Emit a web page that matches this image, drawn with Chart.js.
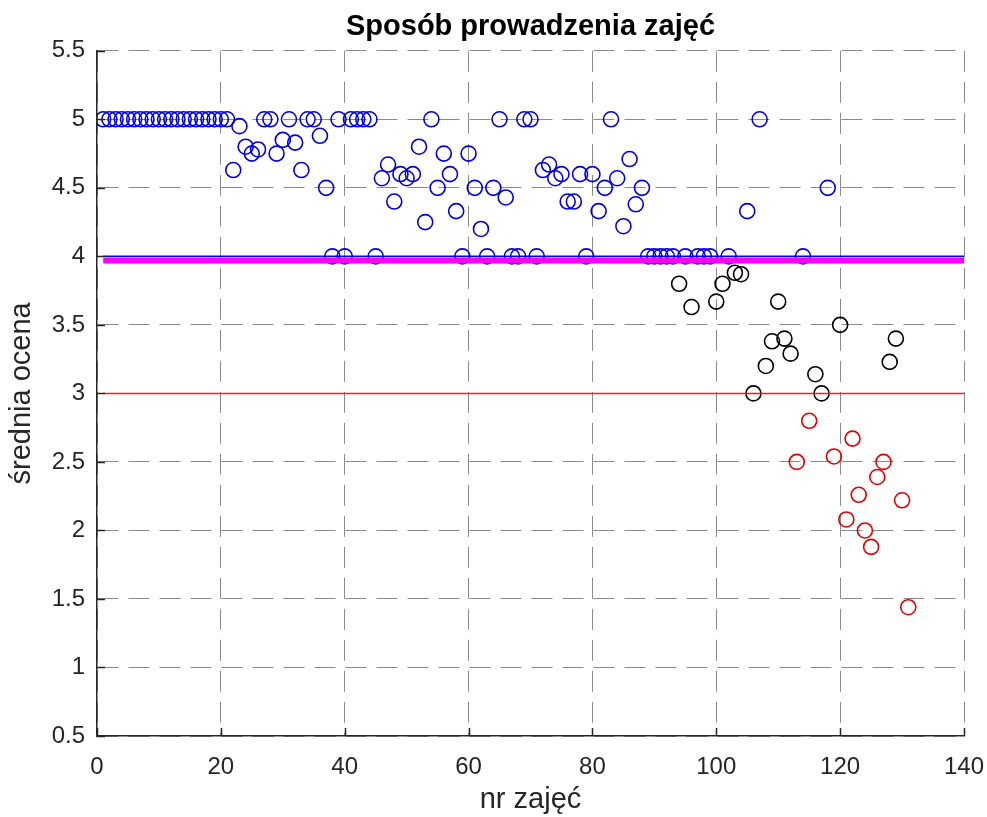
<!DOCTYPE html>
<html>
<head>
<meta charset="utf-8">
<script src="https://cdn.jsdelivr.net/npm/chart.js@4.4.0/dist/chart.umd.min.js"></script>
<style>
    html, body { margin: 0; padding: 0; background: #fff; }
    #wrap { width: 987px; height: 817px; }
</style>
</head>
<body>
<div id="wrap"><canvas id="chart" width="987" height="817"></canvas></div>
<script>
// średnia ocena kolejnych zajęć (nr zajęć = pozycja w tablicy + 1)
const srednieOceny = [
    5, 5, 5, 5, 5, 5, 5, 5, 5, 5, 5, 5, 5, 5, 5, 5, 5, 5, 5, 5, 5,
    4.63, 4.95, 4.8, 4.75, 4.78, 5, 5, 4.75, 4.85, 5,
    4.83, 4.63, 5, 5, 4.88, 4.5, 4, 5, 4, 5,
    5, 5, 5, 4, 4.57, 4.67, 4.4, 4.6, 4.57, 4.6,
    4.8, 4.25, 5, 4.5, 4.75, 4.6, 4.33, 4, 4.75, 4.5,
    4.2, 4, 4.5, 5, 4.43, 4, 4, 5, 5, 4,
    4.63, 4.67, 4.57, 4.6, 4.4, 4.4, 4.6, 4, 4.6, 4.33,
    4.5, 5, 4.57, 4.22, 4.71, 4.38, 4.5, 4, 4, 4,
    4, 4, 3.8, 4, 3.63, 4, 4, 4, 3.67, 3.8,
    4, 3.88, 3.87, 4.33, 3, 5, 3.2, 3.38, 3.67, 3.4,
    3.29, 2.5, 4, 2.8, 3.14, 3, 4.5, 2.54, 3.5, 2.08,
    2.67, 2.26, 2, 1.88, 2.39, 2.5, 3.23, 3.4, 2.22, 1.44
];

const progDobry = 4;        // niebieska linia
const progDostateczny = 3;  // czerwona linia
const sredniaOgolna = 3.97; // gruba magenta linia

const xTicks = [0, 20, 40, 60, 80, 100, 120, 140];
const yTicks = [0.5, 1, 1.5, 2, 2.5, 3, 3.5, 4, 4.5, 5, 5.5];

const punkty = srednieOceny.map((v, i) => ({ x: i + 1, y: v }));
const niebieskie = punkty.filter(p => p.y >= progDobry);
const czarne = punkty.filter(p => p.y >= progDostateczny && p.y < progDobry);
const czerwone = punkty.filter(p => p.y < progDostateczny);

const xMin = xTicks[0], xMax = xTicks[xTicks.length - 1];
const linia = (y) => [{ x: 1, y: y }, { x: xMax, y: y }];

const FONT = "'Liberation Sans', Arial, Helvetica, sans-serif";
const TXT = '#262626';

function kolka(data, color) {
    return {
        data: data,
        showLine: false,
        pointStyle: 'circle',
        pointRadius: 7.5,
        pointHoverRadius: 7.5,
        pointBorderWidth: 1.6,
        pointBorderColor: color,
        pointBackgroundColor: 'rgba(0,0,0,0)',
        order: 5
    };
}

function pozioma(y, color, width, order) {
    return {
        data: linia(y),
        showLine: true,
        borderColor: color,
        borderWidth: width,
        pointRadius: 0,
        borderCapStyle: 'butt',
        order: order
    };
}

// ticks pointing inward, like the original figure
const inwardTicks = {
    id: 'inwardTicks',
    afterDraw(chart) {
        const ctx = chart.ctx;
        const area = chart.chartArea;
        const xs = chart.scales.x, ys = chart.scales.y;
        ctx.save();
        ctx.strokeStyle = TXT;
        ctx.lineWidth = 1.5;
        ctx.beginPath();
        xTicks.forEach(t => {
            const px = Math.round(xs.getPixelForValue(t)) + 0.5;
            ctx.moveTo(px, area.bottom);
            ctx.lineTo(px, area.bottom - 8);
        });
        yTicks.forEach(t => {
            const py = Math.round(ys.getPixelForValue(t)) + 0.5;
            ctx.moveTo(area.left, py);
            ctx.lineTo(area.left + 8, py);
        });
        ctx.stroke();
        ctx.restore();
    }
};

new Chart(document.getElementById('chart'), {
    type: 'scatter',
    data: {
        datasets: [
            pozioma(progDobry, '#0000ff', 1.5, 1),
            pozioma(sredniaOgolna, '#ff00ff', 6, 2),
            pozioma(progDostateczny, '#ff1a1a', 1.5, 3),
            kolka(czerwone, '#e00000'),
            kolka(czarne, '#000000'),
            kolka(niebieskie, '#0000e0')
        ]
    },
    options: {
        responsive: false,
        animation: false,
        devicePixelRatio: 1,
        layout: { padding: { left: 0, right: 23, top: 0, bottom: 0 } },
        plugins: {
            legend: { display: false },
            tooltip: { enabled: false },
            title: {
                display: true,
                text: 'Sposób prowadzenia zajęć',
                fullSize: false,
                color: '#000',
                font: { family: FONT, size: 29, weight: 'bold' },
                padding: { top: 10, bottom: 6 }
            }
        },
        scales: {
            x: {
                type: 'linear',
                min: xMin,
                max: xMax,
                afterFit(scale) {
                    scale.height = 81;
                    scale.paddingLeft = 0;
                    scale.paddingRight = 0;
                },
                afterBuildTicks(scale) { scale.ticks = xTicks.map(v => ({ value: v })); },
                ticks: {
                    color: TXT,
                    padding: 17,
                    maxRotation: 0,
                    font: { family: FONT, size: 24 },
                    callback: v => String(v)
                },
                grid: { color: '#8a8a8a', lineWidth: 1, drawTicks: false },
                border: { display: true, color: TXT, width: 1.5, dash: [21, 10] },
                title: {
                    display: true,
                    text: 'nr zajęć',
                    color: TXT,
                    font: { family: FONT, size: 29 },
                    padding: { top: 0, bottom: 0 }
                }
            },
            y: {
                type: 'linear',
                min: yTicks[0],
                max: yTicks[yTicks.length - 1],
                afterFit(scale) {
                    scale.width = 97;
                    scale.paddingTop = 0;
                    scale.paddingBottom = 0;
                },
                afterBuildTicks(scale) { scale.ticks = yTicks.map(v => ({ value: v })); },
                ticks: {
                    color: TXT,
                    padding: 12,
                    font: { family: FONT, size: 24 },
                    callback: v => String(v)
                },
                grid: { color: '#8a8a8a', lineWidth: 1, drawTicks: false },
                border: { display: true, color: TXT, width: 1.5, dash: [21, 10] },
                title: {
                    display: true,
                    text: 'średnia ocena',
                    color: TXT,
                    font: { family: FONT, size: 29 },
                    padding: { top: 5, bottom: 0 }
                }
            }
        }
    },
    plugins: [inwardTicks]
});
</script>
</body>
</html>
